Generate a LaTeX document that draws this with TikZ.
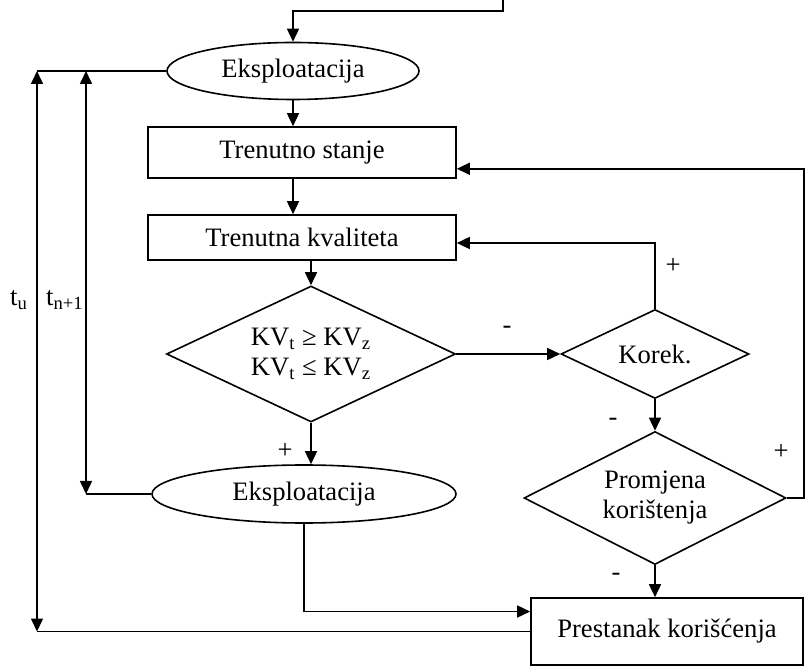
\documentclass[tikz,border=0pt]{standalone}
\usepackage{fontspec}
\setmainfont{Liberation Serif}
\usepackage{tikz}
\usetikzlibrary{calc}
\usetikzlibrary{positioning, shapes.geometric}
\usetikzlibrary{arrows.meta}

\begin{document}
\begin{tikzpicture}[
    x=0.5pt, y=-0.5pt,
    every node/.style={font=\fontsize{13.3}{15}\selectfont},
    oval/.style={ellipse, draw=black, thick, inner sep=0pt},
    box/.style={rectangle, draw=black, thick, inner sep=0pt},
    test/.style={diamond, draw=black, thick, inner sep=0pt, align=center},
    link/.style={thick, black},
    edge/.style={link, -{Triangle[length=6.5pt,width=6pt]}},
    span/.style={link, {Triangle[length=6.5pt,width=6pt]}-{Triangle[length=6.5pt,width=6pt]}},
    sign/.style={inner sep=0pt}
]
    \useasboundingbox (0,0) rectangle (807,672);

    % --- Main column (left):
    \node[oval, minimum width=126pt, minimum height=28.5pt] (E1) at (293,71) {Eksploatacija};
    \node[box, minimum width=154pt, minimum height=25.5pt] (S1) at (302,152.5) {Trenutno stanje};
    \node[box, minimum width=154pt, minimum height=22.5pt] (S2) at (302,237.5) {Trenutna kvaliteta};
    \node[test, shape aspect=2.1, minimum width=144.5pt, minimum height=68pt] (D1) at (311,354)
        {KV\textsubscript{t} ≥ KV\textsubscript{z}\\KV\textsubscript{t} ≤ KV\textsubscript{z}};
    \node[oval, minimum width=152pt, minimum height=29pt] (E2) at (304,494) {Eksploatacija};

    % --- Right column:
    \node[test, shape aspect=2.1, minimum width=94pt, minimum height=44.5pt] (D2) at (655,354) {Korek.};
    \node[test, shape aspect=2, minimum width=131pt, minimum height=66.5pt] (D3) at (655,498) {Promjena\\korištenja};
    \node[box, minimum width=136pt, minimum height=33.5pt] (S3) at (667,631.5) {Prestanak korišćenja};

    % --- Time spans (far left)
    \coordinate (TuT) at (37,71);
    \coordinate (TuB) at (37,631.5);
    \coordinate (TnT) at (86,71);
    \coordinate (TnB) at (86,494);
    \node (Tu) at (19,300) {t\textsubscript{u}};
    \node (Tn) at (65,300) {t\textsubscript{n+1}};

    \coordinate (In) at (503,0);
    \draw[edge] (In) -- ++(0,11) -| (E1.north);
    \draw[edge] (E1.south) -- (E1.south |- S1.north);
    \draw[edge] (S1.south -| E1.south) -- (S2.north -| E1.south);
    \draw[edge] (S2.south -| D1.north) -- (D1.north);
    \draw[edge] (D1.south) -- (D1.south |- E2.north);
    \draw[edge] (E2.south) |- ([yshift=10pt]S3.west);

    \draw[edge] (D1.east) -- (D2.west);
    \draw[edge] (D2.north) |- ([yshift=-2.75pt]S2.east);
    \draw[edge] (D2.south) -- (D3.north);
    \draw[edge] (D3.east) -- ++(17,0) |- ([yshift=5pt]S1.south east);
    \draw[edge] (D3.south) -- (D3.south |- S3.north);

    \draw[link] (E1.west) -- (E1.west -| TuT);
    \draw[link] (E2.west) -- (TnB);
    \draw[link] (S3.west) -- (S3.west -| TuB);
    \draw[span] (TuT) -- (TuB);
    \draw[span] (TnT) -- (TnB);

    \node[sign] (P1) at (673,266) {+};
    \node[sign] (M1) at (507,330) {-};
    \node[sign] (M2) at (613,422) {-};
    \node[sign] (P2) at (781,452) {+};
    \node[sign] (M3) at (616,577) {-};
    \node[sign] (P3) at (285,451) {+};

\end{tikzpicture}
\end{document}
